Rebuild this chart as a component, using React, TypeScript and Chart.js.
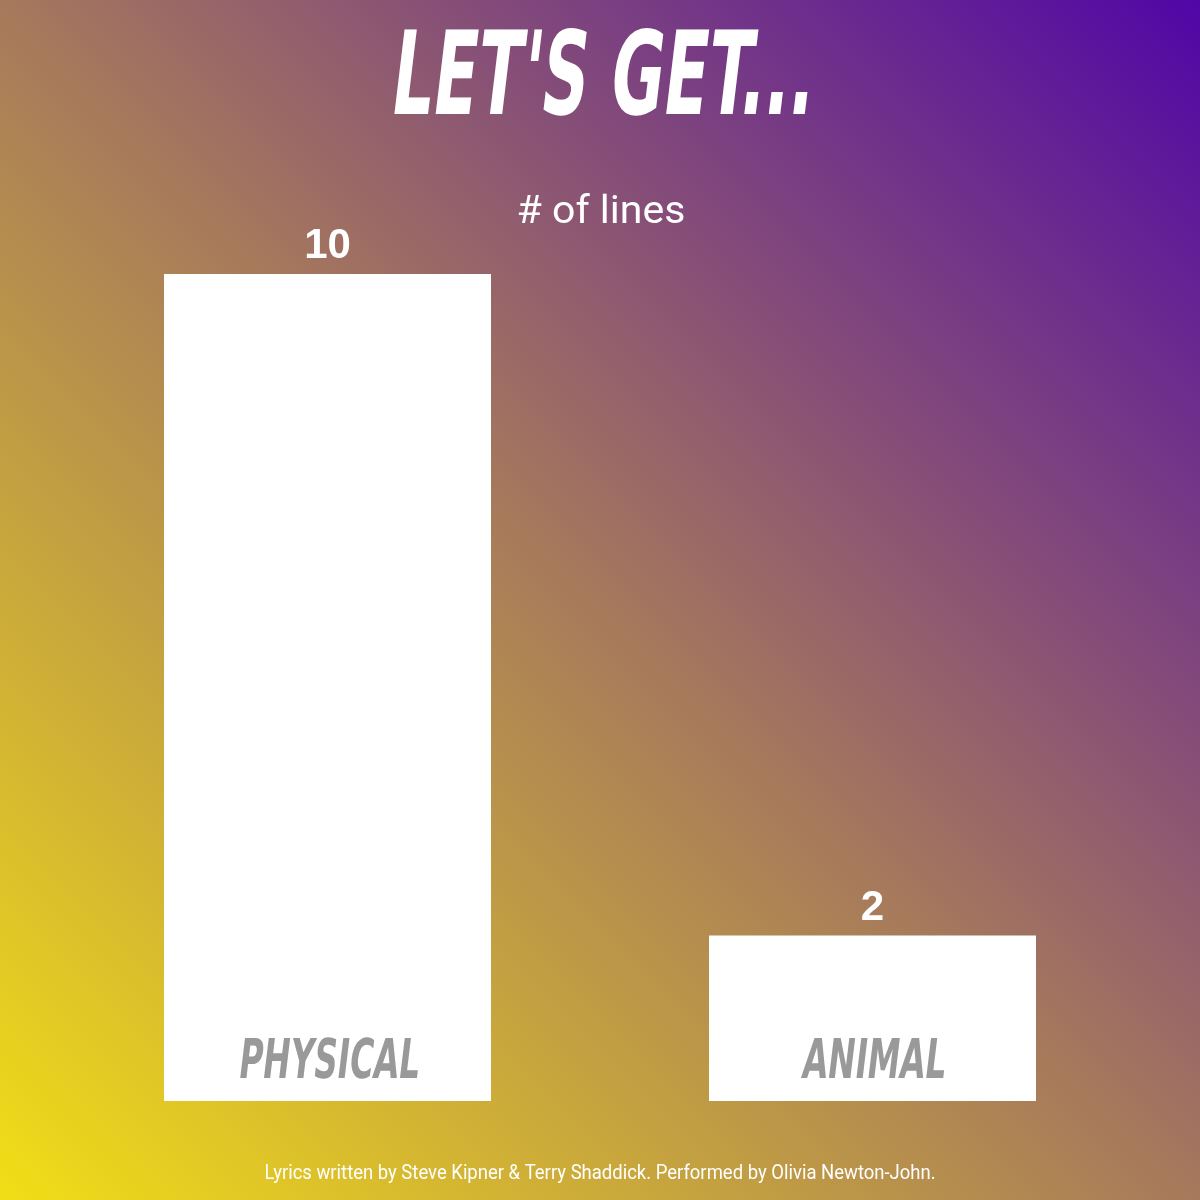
import React, { useEffect, useRef } from "react";
import { Chart, registerables } from "chart.js";

Chart.register(...registerables);

const categories = ["PHYSICAL", "ANIMAL"];
const lineCounts = [10, 2];
const seriesLabel = "# of lines";
const titleText = "LET'S GET...";
const footerText = "Lyrics written by Steve Kipner & Terry Shaddick. Performed by Olivia Newton-John.";

const DISPLAY_FONT = '"DejaVu Sans Condensed", "DejaVu Sans", sans-serif';
const ROBOTO = 'Roboto, "Noto Sans", sans-serif';

function drawScaled(
  ctx: CanvasRenderingContext2D,
  text: string,
  cx: number,
  baseline: number,
  font: string,
  color: string,
  scaleX: number,
  skew = 0
) {
  ctx.save();
  ctx.font = font;
  ctx.fillStyle = color;
  ctx.textAlign = "center";
  ctx.textBaseline = "alphabetic";
  ctx.translate(cx, baseline);
  ctx.transform(scaleX, 0, -skew, 1, 0, 0);
  ctx.fillText(text, 0, 0);
  ctx.restore();
}

const backgroundPlugin = {
  id: "bgGradient",
  beforeDraw(chart: any) {
    const { ctx, width, height } = chart;
    const g = ctx.createLinearGradient(0, height, width, 0);
    g.addColorStop(0, "#f2de16");
    g.addColorStop(0.5, "#a6795c");
    g.addColorStop(1, "#4f06a6");
    ctx.save();
    ctx.fillStyle = g;
    ctx.fillRect(0, 0, width, height);
    ctx.restore();
  },
};

const textPlugin = {
  id: "textDecor",
  afterDatasetsDraw(chart: any) {
    const { ctx } = chart;
    const meta = chart.getDatasetMeta(0);
    // title
    drawScaled(ctx, titleText, 600, 114, `bold 116px ${DISPLAY_FONT}`, "#ffffff", 0.62, 0.12);
    // series label
    drawScaled(ctx, seriesLabel, 601, 223, `38px ${ROBOTO}`, "#ffffff", 1.08);
    // footer
    drawScaled(ctx, footerText, 600, 1179, `20px ${ROBOTO}`, "#ffffff", 0.924);
    meta.data.forEach((bar: any, i: number) => {
      const x = bar.x;
      // value label
      drawScaled(ctx, String(lineCounts[i]), x, bar.y - 16, `bold 42px "Liberation Sans", Arial, sans-serif`, "#ffffff", 1);
      // category label inside bar
      drawScaled(ctx, categories[i], x, bar.base - 23, `bold 55px ${DISPLAY_FONT}`, "#999999", 0.66, 0.12);
    });
  },
};

export default function App() {
  const ref = useRef<HTMLCanvasElement | null>(null);
  useEffect(() => {
    if (!ref.current) return;
    const chart = new Chart(ref.current, {
      type: "bar",
      data: {
        labels: categories,
        datasets: [
          {
            label: seriesLabel,
            data: lineCounts,
            backgroundColor: "#ffffff",
            borderWidth: 0,
            categoryPercentage: 1,
            barPercentage: 0.6,
          },
        ],
      },
      options: {
        responsive: false,
        animation: false,
        layout: { padding: { left: 55, right: 55, top: 274, bottom: 99 } },
        plugins: {
          legend: { display: false },
          title: { display: false },
          tooltip: { enabled: false },
        },
        scales: {
          x: { display: false, grid: { display: false } },
          y: { display: false, min: 0, max: 10, grid: { display: false } },
        },
      },
      plugins: [backgroundPlugin, textPlugin],
    });
    return () => chart.destroy();
  }, []);
  return (
    <div style={{ position: "fixed", left: 0, top: 0, width: 1200, height: 1200 }}>
      <canvas ref={ref} width={1200} height={1200} style={{ display: "block" }} />
    </div>
  );
}
